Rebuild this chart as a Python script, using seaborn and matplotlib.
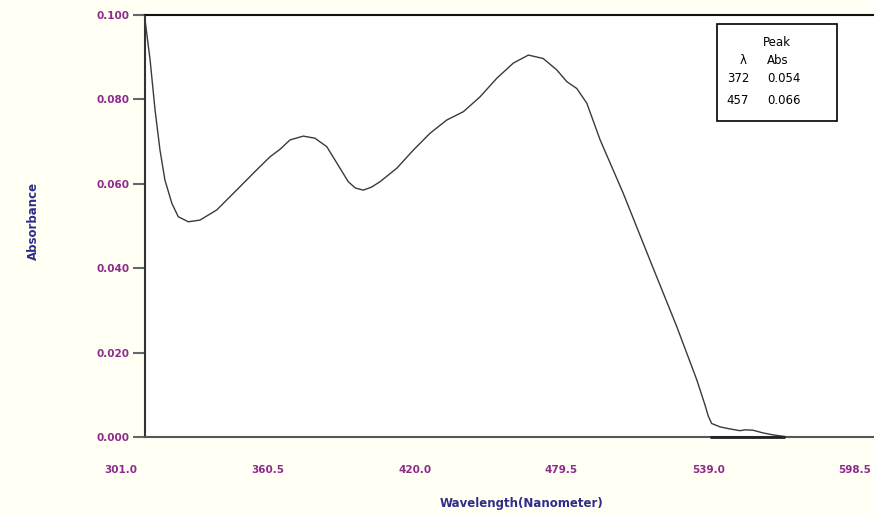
"""
UV-Vis absorbance spectrum, redrawn from an instrument printout.
"""

import matplotlib
matplotlib.use("Agg")
import matplotlib.pyplot as plt
from matplotlib.patches import Rectangle
import seaborn as sns
import pandas as pd

#  Data 
wavelength = [310.5, 312.8, 314.8, 316.8, 318.8, 321.6, 324.2, 328.3, 333.0,
              339.8, 349.2, 356.0, 361.4, 365.5, 369.5, 374.9, 379.6, 384.4,
              388.4, 393.1, 396.0, 399.2, 402.5, 406.0, 412.8, 419.5, 426.3,
              433.0, 439.8, 446.5, 453.3, 460.0, 466.1, 472.1, 477.6, 481.7,
              485.7, 489.8, 495.2, 504.6, 515.4, 526.3, 534.4, 537.7, 539.0,
              540.4, 543.8, 547.0, 551.9, 554.0, 557.2, 561.0, 565.3, 570.2]
absorbance = [0.1000, 0.0893, 0.0775, 0.0680, 0.0609, 0.0554, 0.0522, 0.0510, 0.0514,
              0.0538, 0.0593, 0.0633, 0.0664, 0.0682, 0.0704, 0.0713, 0.0708, 0.0688,
              0.0650, 0.0605, 0.0590, 0.0585, 0.0592, 0.0605, 0.0637, 0.0680, 0.0720,
              0.0751, 0.0771, 0.0806, 0.0850, 0.0886, 0.0905, 0.0897, 0.0870, 0.0842,
              0.0826, 0.0791, 0.0704, 0.0577, 0.0419, 0.0261, 0.0135, 0.0076, 0.0050,
              0.0032, 0.0024, 0.0020, 0.0015, 0.0017, 0.0016, 0.0010, 0.0005, 0.0001]

baseline_nm  = [539.8, 570.2]
baseline_abs = [0.0, 0.0]

x_ticks  = [301.0, 360.5, 420.0, 479.5, 539.0, 598.5]
y_ticks  = [0.000, 0.020, 0.040, 0.060, 0.080, 0.100]
peak_nm  = ["372", "457"]
peak_abs = ["0.054", "0.066"]

#  Style 
BG       = "#fffff4"
TICK_COL = "#8e2a8e"
LAB_COL  = "#2e2e8a"
Y_AXIS_X = 310.7
X_MAX    = 606.2

sns.set_style("white")
plt.rcParams["font.family"] = ["DejaVu Sans"]

df = pd.DataFrame({"nm": wavelength, "abs": absorbance})

fig = plt.figure(figsize=(8.74, 5.16), dpi=100, facecolor=BG)
ax = fig.add_axes([121 / 874, 1 - 437 / 516, 1 - 121 / 874, (437 - 15) / 516])
ax.set_facecolor(BG)
ax.axvspan(Y_AXIS_X, X_MAX, color="white", zorder=0)

sns.lineplot(data=df, x="nm", y="abs", ax=ax, color="#3a3a3a",
             linewidth=1.0, zorder=3)
ax.lines[-1].set_solid_joinstyle("round")
ax.plot(baseline_nm, baseline_abs, color="#222222", linewidth=2.0,
        solid_capstyle="butt", zorder=4, clip_on=False)

ax.set_xlim(301.0, X_MAX)
ax.set_ylim(0, 0.100)

# spines: y axis sits at the first data wavelength, not at the left limit
ax.spines["right"].set_visible(False)
ax.spines["left"].set_position(("data", Y_AXIS_X))
for s in ("left", "top", "bottom"):
    ax.spines[s].set_visible(True)
    ax.spines[s].set_linewidth(1.5)
ax.spines["left"].set_color("#333333")
ax.spines["top"].set_color("#111111")
ax.spines["bottom"].set_color("#555555")
ax.spines["top"].set_bounds(Y_AXIS_X, X_MAX)
ax.spines["bottom"].set_bounds(Y_AXIS_X, X_MAX)

ax.set_xticks(x_ticks)
ax.set_xticklabels([f"{v:.1f}" for v in x_ticks])
ax.set_yticks(y_ticks)
ax.set_yticklabels([f"{v:.3f}" for v in y_ticks])
ax.tick_params(axis="x", length=0, pad=20, labelsize=7.5, labelcolor=TICK_COL)
ax.tick_params(axis="y", left=True, length=8.6, width=1.5, color="#666666",
               pad=2.5, labelsize=7.5, labelcolor=TICK_COL)
for lab in ax.get_xticklabels() + ax.get_yticklabels():
    lab.set_fontweight("bold")

ax.set_xlabel("")
ax.set_ylabel("")
fig.text(522 / 874, 1 - 504 / 516, "Wavelength(Nanometer)", ha="center",
         va="center", fontsize=8.5, fontweight="bold", color=LAB_COL)
fig.text(33 / 874, 1 - 221 / 516, "Absorbance", ha="center", va="center",
         rotation=90, fontsize=8.5, fontweight="bold", color=LAB_COL)

#  Peak table box 
fig.patches.append(Rectangle((716.5 / 874, 1 - 120.5 / 516), 120 / 874, 97 / 516,
                             transform=fig.transFigure, facecolor="white",
                             edgecolor="black", linewidth=1.2, zorder=5))
txt = dict(ha="center", va="center", fontsize=8.5, color="black", zorder=6)
fig.text(777 / 874, 1 - 42 / 516, "Peak", **txt)
fig.text(743 / 874, 1 - 60 / 516, "λ", **txt)
fig.text(778 / 874, 1 - 60 / 516, "Abs", **txt)
for i, (w, a) in enumerate(zip(peak_nm, peak_abs)):
    y = [78, 100][i]
    fig.text(738 / 874, 1 - y / 516, w, **txt)
    fig.text(784 / 874, 1 - y / 516, a, **txt)

plt.savefig("out.png", dpi=100, facecolor=BG)
plt.close()
